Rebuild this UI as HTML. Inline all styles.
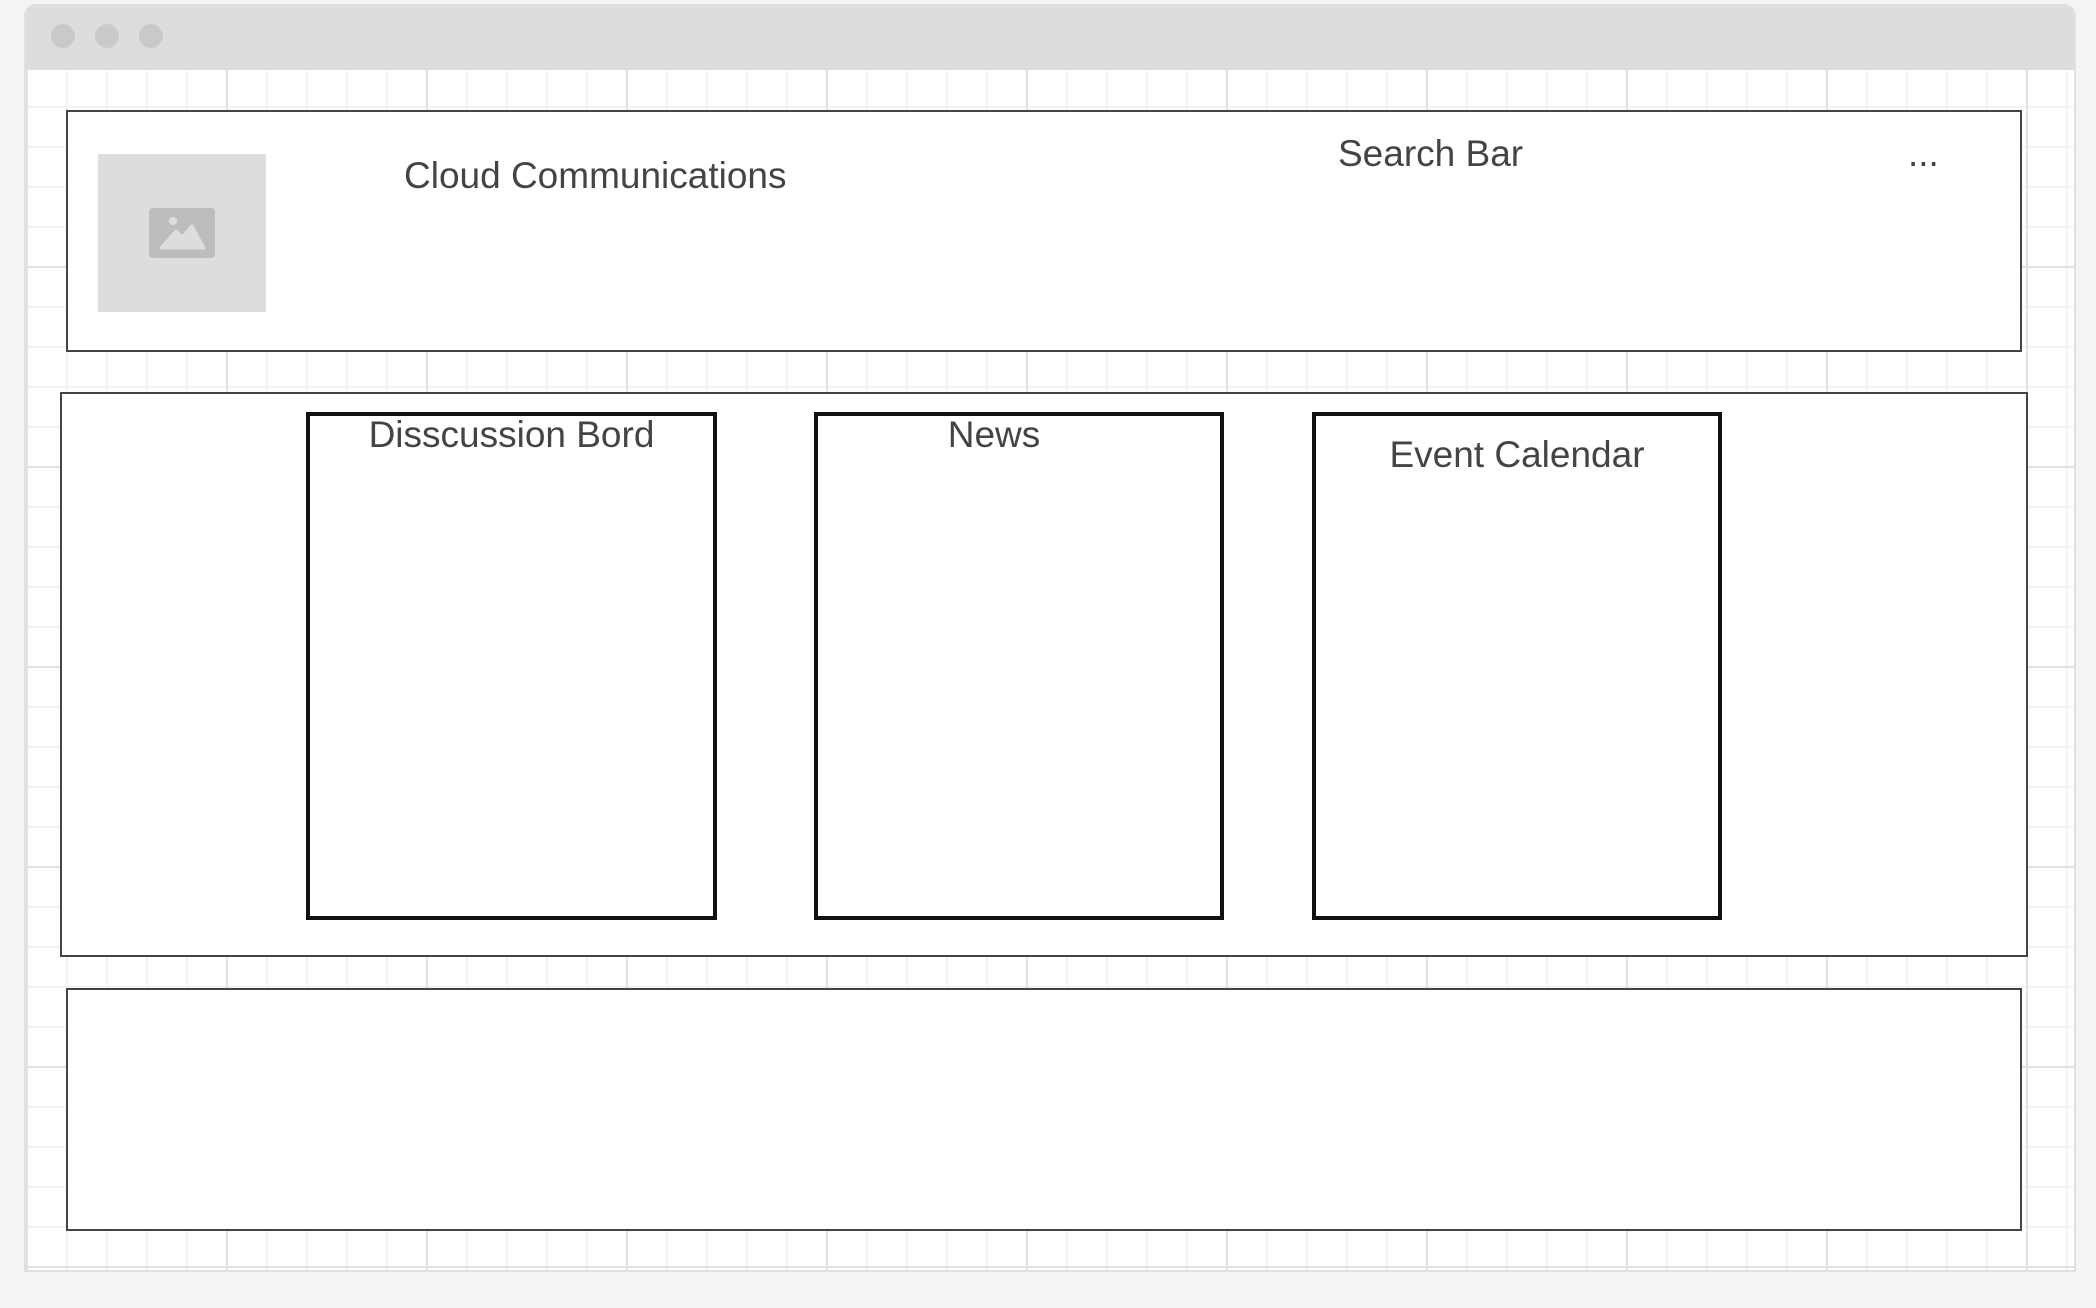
<!DOCTYPE html>
<html><head><meta charset="utf-8"><style>
html,body{margin:0;padding:0;width:2096px;height:1308px;background:#f4f4f4;overflow:hidden;font-family:"Liberation Sans",sans-serif;}
.abs{position:absolute;box-sizing:border-box;}
#win{left:24px;top:4px;width:2052px;height:1268px;background:#fff;border:2px solid #e0e0e0;border-top:none;border-radius:12px 12px 0 0;overflow:hidden;}
#title{left:0;top:0;width:100%;height:66px;background:#dddddd;}
.dot{width:24px;height:24px;border-radius:50%;background:#c9c9c9;top:20px;}
#grid{left:0;top:66px;width:100%;height:1210px;
background-image:linear-gradient(#e2e2e2 2px,transparent 2px),linear-gradient(90deg,#e2e2e2 2px,transparent 2px),linear-gradient(#efefef 1.5px,transparent 1.5px),linear-gradient(90deg,#efefef 1.5px,transparent 1.5px);
background-size:200px 200px,200px 200px,40px 40px,40px 40px;
background-position:0 -4px,0 0,0 -4px,0 0;}
.box{background:#fff;border:2px solid #444;}
.card{background:#fff;border:4px solid #111;}
.t{color:#444;font-size:37px;line-height:40px;white-space:nowrap;}
</style></head><body>
<div id="win" class="abs">
 <div id="title" class="abs">
  <div class="abs dot" style="left:25px"></div>
  <div class="abs dot" style="left:69px"></div>
  <div class="abs dot" style="left:113px"></div>
 </div>
 <div id="grid" class="abs"></div>
</div>
<div class="abs box" style="left:66px;top:110px;width:1956px;height:242px;"></div>
<div class="abs" style="left:98px;top:154px;width:168px;height:158px;background:#dddddd;"></div>
<svg class="abs" style="left:149px;top:208px" width="66" height="50" viewBox="0 0 66 50">
 <rect x="0" y="0" width="66" height="50" rx="4" fill="#bcbcbc"/>
 <circle cx="24" cy="13" r="4" fill="#dddddd"/>
 <path d="M12 40 L27 23 L33 29 L43 18 L55 40 Z" fill="#dddddd" stroke="#dddddd" stroke-width="3" stroke-linejoin="round"/>
</svg>
<div class="abs t" style="left:404px;top:156px;">Cloud Communications</div>
<div class="abs t" style="left:1338px;top:134px;">Search Bar</div>
<div class="abs t" style="left:1908px;top:134px;">...</div>

<div class="abs box" style="left:60px;top:392px;width:1968px;height:565px;"></div>
<div class="abs card" style="left:306px;top:412px;width:411px;height:508px;"></div>
<div class="abs card" style="left:814px;top:412px;width:410px;height:508px;"></div>
<div class="abs card" style="left:1312px;top:412px;width:410px;height:508px;"></div>
<div class="abs t" style="left:306px;top:415px;width:411px;text-align:center;">Disscussion Bord</div>
<div class="abs t" style="left:894px;top:415px;width:200px;text-align:center;">News</div>
<div class="abs t" style="left:1312px;top:435px;width:410px;text-align:center;">Event Calendar</div>

<div class="abs box" style="left:66px;top:988px;width:1956px;height:243px;"></div>
</body></html>
